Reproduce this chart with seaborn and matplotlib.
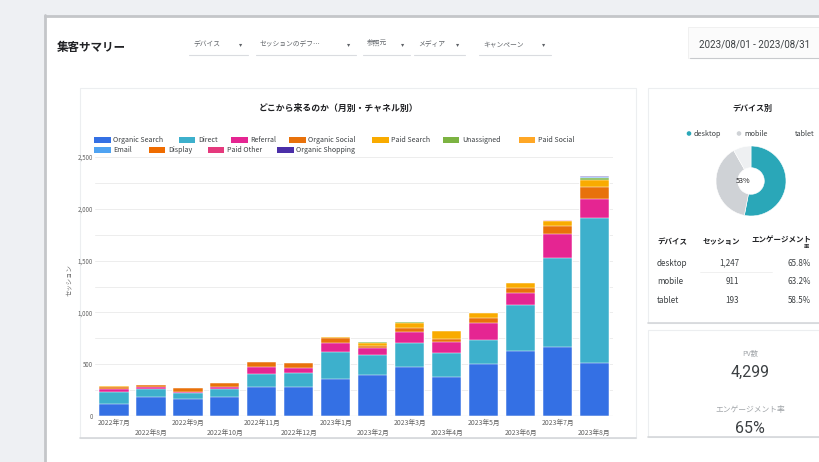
import numpy as np
import pandas as pd
import matplotlib
matplotlib.use("Agg")
import matplotlib.pyplot as plt
import seaborn as sns
from matplotlib.patches import Rectangle, Circle

# ---------------- data ----------------
months = ["2022年7月", "2022年8月", "2022年9月", "2022年10月", "2022年11月", "2022年12月",
          "2023年1月", "2023年2月", "2023年3月", "2023年4月", "2023年5月", "2023年6月",
          "2023年7月", "2023年8月"]
channels = ["Organic Search", "Direct", "Referral", "Organic Social", "Paid Search",
            "Unassigned", "Paid Social", "Email", "Display", "Paid Other", "Organic Shopping"]
organic_search = [120, 180, 161, 186, 277, 283, 354, 396, 476, 379, 499, 630, 669, 508]
direct = [115, 78, 64, 75, 131, 135, 266, 193, 231, 232, 234, 441, 853, 1406]
referral = [23, 19, 10, 22, 62, 48, 87, 64, 101, 106, 162, 113, 234, 177]
organic_social = [25, 23, 32, 32, 48, 42, 48, 23, 44, 26, 48, 48, 78, 116]
paid_search = [5, 0, 0, 0, 0, 0, 6, 32, 46, 75, 50, 48, 45, 70]
unassigned = [2, 0, 0, 0, 0, 0, 4, 3, 6, 2, 4, 6, 6, 16]
paid_social = [0, 0, 0, 0, 0, 0, 0, 0, 0, 0, 0, 0, 0, 8]
email = [0, 0, 0, 0, 0, 0, 0, 0, 0, 0, 0, 0, 2, 3]
display = [0, 0, 0, 0, 0, 0, 0, 0, 0, 0, 0, 0, 0, 2]
paid_other = [0, 0, 0, 0, 0, 0, 0, 0, 0, 0, 0, 0, 1, 2]
organic_shopping = [0, 0, 0, 0, 0, 0, 0, 0, 0, 0, 0, 0, 0, 5]
channel_colors = ["#3470E4", "#3DB0CC", "#E52592", "#E8710A", "#F9AB00", "#7CB342",
                  "#FFA726", "#4FA3F2", "#EF6C00", "#E5397D", "#4B2FA8"]

yticks = [0, 500, 1000, 1500, 2000, 2500]
ytick_labels = ["0", "500", "1,000", "1,500", "2,000", "2,500"]

devices = ["desktop", "mobile", "tablet"]
device_sessions = [1247, 911, 193]
device_session_labels = ["1,247", "911", "193"]
device_engagement = ["65.8%", "63.2%", "58.5%"]
device_colors = ["#2AA7B8", "#CFD2D6", "#EEF0F2"]

filters = ["デバイス", "セッションのデフ…", "参照元", "メディア", "キャンペーン"]
date_range = "2023/08/01 - 2023/08/31"
pv_total = "4,299"
engagement_rate = "65%"

# ---------------- figure ----------------
sns.set_theme(style="white")
plt.rcParams["font.family"] = ["Noto Sans CJK JP", "DejaVu Sans"]

W, H = 820, 462
fig = plt.figure(figsize=(8.2, 4.62), dpi=100, facecolor="#eef0f3")


def rect(x0, y0, x1, y1):
    return [x0 / W, 1 - y1 / H, (x1 - x0) / W, (y1 - y0) / H]


bg = fig.add_axes([0, 0, 1, 1])
bg.set_xlim(0, W)
bg.set_ylim(H, 0)
bg.axis("off")

# page frame
bg.add_patch(Rectangle((46, 16), W - 46, H - 16, facecolor="white", edgecolor="none"))
bg.plot([45.5, 45.5], [15, H], color="#c4c6c9", lw=2)
bg.plot([45, W], [15.5, 15.5], color="#c4c6c9", lw=2)

# header
bg.text(57, 47, "集客サマリー", fontsize=8.3, fontweight="bold", color="#202124", va="center")
filt_pos = [(189, 248), (256, 356), (363, 410), (414, 465), (479, 551)]
for (x0, x1), name in zip(filt_pos, filters):
    bg.text(x0 + 4, 44, name, fontsize=4.9, color="#5f6368", va="center")
    bg.text(x1 - 7, 44, "▾", fontsize=4.6, color="#5f6368", va="center", ha="center")
    bg.plot([x0, x1], [55, 55], color="#dadce0", lw=0.8)
bg.add_patch(Rectangle((688, 27), 140, 31, facecolor="#fbfbfb", edgecolor="#eeeeee", lw=0.6))
bg.text(755, 44, date_range, fontsize=7, color="#3c4043", va="center", ha="center",
        family=["Roboto", "DejaVu Sans"])
bg.plot([690, W], [57.5, 57.5], color="#c8cacd", lw=0.8)

# card outlines
bg.add_patch(Rectangle((80, 88), 556, 350, facecolor="white", edgecolor="#eceef0", lw=0.8))
bg.plot([80, 636], [438, 438], color="#d5d7da", lw=1.2)
bg.add_patch(Rectangle((648, 88), 180, 235, facecolor="white", edgecolor="#eceef0", lw=0.8))
bg.plot([648, W], [323, 323], color="#d5d7da", lw=1.2)
bg.add_patch(Rectangle((648, 330), 180, 107, facecolor="white", edgecolor="#eceef0", lw=0.8))
bg.plot([648, W], [437, 437], color="#d5d7da", lw=1.2)

# chart title + legend
bg.text(339, 108, "どこから来るのか（月別・チャネル別）", fontsize=6.4, fontweight="bold",
        color="#202124", ha="center", va="center")
leg_rows = [
    [(94.5, 0), (179, 1), (231.4, 2), (289.3, 3), (372.4, 4), (442.8, 5), (518.6, 6)],
    [(94.5, 7), (149, 8), (207.6, 9), (277.2, 10)],
]
for ly, row in zip([140, 150], leg_rows):
    for lx, idx in row:
        bg.add_patch(Rectangle((lx, ly - 2.7), 16.5, 5.4, facecolor=channel_colors[idx],
                               edgecolor="none"))
        bg.text(lx + 19, ly, channels[idx], fontsize=5.1, color="#3c4043", va="center")

bg.text(69, 280, "セッション", fontsize=4.6, color="#616161", rotation=90,
        ha="center", va="center")

# ---------------- stacked bars ----------------
ax = fig.add_axes(rect(95.5, 157, 613, 416))
ax.set_facecolor("none")
series = [organic_search, direct, referral, organic_social, paid_search, unassigned,
          paid_social, email, display, paid_other, organic_shopping]
cum = np.cumsum(np.array(series, dtype=float), axis=0)
for i in range(len(series) - 1, -1, -1):
    df = pd.DataFrame({"month": months, "value": cum[i]})
    sns.barplot(data=df, x="month", y="value", color=channel_colors[i], saturation=1,
                width=0.79, edgecolor="white", linewidth=0.35, ax=ax)

ax.set_xlim(-0.5, len(months) - 0.5)
ax.set_ylim(0, 2500)
ax.set_yticks(yticks)
ax.set_yticklabels(ytick_labels)
ax.set_yticks(np.arange(250, 2500, 500), minor=True)
ax.grid(axis="y", which="both", color="#ededed", lw=0.7)
ax.set_axisbelow(True)
for s in ax.spines.values():
    s.set_visible(False)
ax.axhline(0, color="#bdbdbd", lw=0.8)
ax.tick_params(axis="y", which="both", length=0, labelsize=4.4, colors="#616161", pad=2)
ax.set_xticks(range(len(months)))
ax.set_xticklabels([])
ax.tick_params(axis="x", length=0)
ax.set_xlabel("")
ax.set_ylabel("")
trans = ax.get_xaxis_transform()
for i, m in enumerate(months):
    yy = -(7 / 259) if i % 2 == 0 else -(17 / 259)
    ax.text(i, yy, m, transform=trans, fontsize=4.9, color="#616161", ha="center",
            va="center", clip_on=False)

# ---------------- right panel ----------------
bg.text(752, 108, "デバイス別", fontsize=5.8, fontweight="bold", color="#202124",
        ha="center", va="center")
for (dx, tx), name, c in zip([(689, 694), (739, 744), (791, 795)], devices, device_colors):
    if name != "tablet":
        bg.add_patch(Circle((dx, 133.5), 2.3, facecolor=c, edgecolor="none"))
    bg.text(tx, 133.5, name, fontsize=5.2, color="#3c4043", va="center")

dax = fig.add_axes(rect(751 - 35, 181 - 35, 751 + 35, 181 + 35))
dax.pie(device_sessions, colors=device_colors, startangle=90, counterclock=False, radius=1,
        wedgeprops=dict(width=0.62, edgecolor="white", linewidth=0.4))
dax.set_xlim(-1, 1)
dax.set_ylim(-1, 1)
dax.text(-0.22, 0.0, "53%", fontsize=5.2, color="#202124", ha="center", va="center")

# table
bg.text(657, 241.5, "デバイス", fontsize=5.4, fontweight="bold", color="#202124", va="center")
bg.text(740, 241.5, "セッション", fontsize=5.4, fontweight="bold", color="#202124",
        va="center", ha="right")
bg.text(811, 239.5, "エンゲージメント", fontsize=5.4, fontweight="bold", color="#202124",
        va="center", ha="right")
bg.text(806, 247, "率", fontsize=3.8, fontweight="bold", color="#202124",
        va="center", ha="center")
for k, (d, s, e) in enumerate(zip(devices, device_session_labels, device_engagement)):
    yy = 263 + k * 18.8
    bg.text(657, yy, d, fontsize=5.8, color="#3c4043", va="center")
    bg.text(739, yy, s, fontsize=5.8, color="#3c4043", va="center", ha="right")
    bg.text(811, yy, e, fontsize=5.8, color="#3c4043", va="center", ha="right")
bg.plot([700, 772], [272, 272], color="#eeeeee", lw=0.6)

# scorecards
bg.text(750, 353.5, "PV数", fontsize=5.2, color="#a0a4a8", ha="center", va="center")
bg.text(750, 372, pv_total, fontsize=11.5, color="#3c4043", ha="center", va="center",
        family=["Roboto", "DejaVu Sans"])
bg.text(750, 410, "エンゲージメント率", fontsize=5.6, color="#a0a4a8", ha="center", va="center")
bg.text(750, 428.5, engagement_rate, fontsize=11.5, color="#3c4043", ha="center", va="center",
        family=["Roboto", "DejaVu Sans"])

fig.savefig("out.png", dpi=100, facecolor=fig.get_facecolor())
